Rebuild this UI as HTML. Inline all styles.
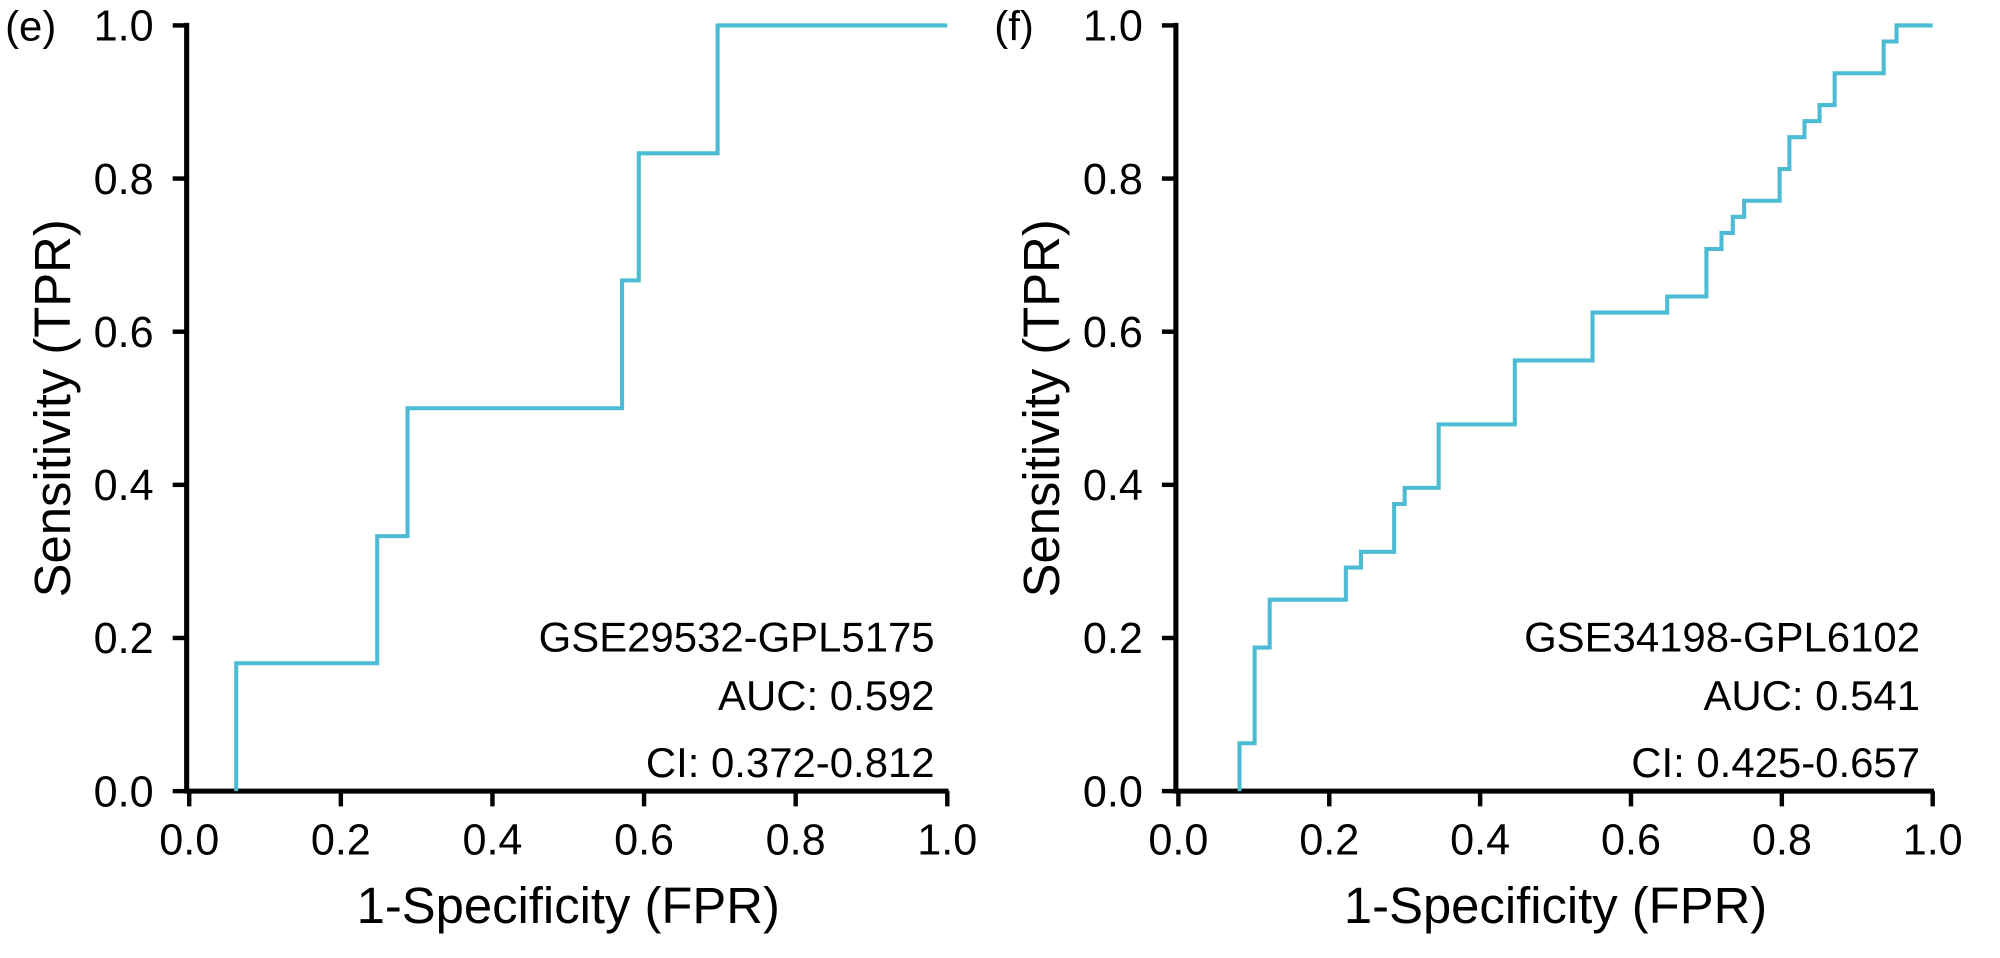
<!DOCTYPE html>
<html><head><meta charset="utf-8"><style>
html,body{margin:0;padding:0;background:#fff;}
svg{display:block;font-family:"Liberation Sans",Arial,sans-serif;}
</style></head><body>
<svg id="c" width="2000" height="958" viewBox="0 0 1575 754.4"></svg>
<script>
const ticks=[0,0.2,0.4,0.6,0.8,1.0];
const tickLabels=["0.0","0.2","0.4","0.6","0.8","1.0"];
const fprE=[0.062,0.062,0.248,0.248,0.288,0.288,0.571,0.571,0.593,0.593,0.697,0.697,1.0];
const tprE=[0,0.167,0.167,0.333,0.333,0.5,0.5,0.667,0.667,0.833,0.833,1.0,1.0];
const stepsF_x=[0.081,0.101,0.121,0.222,0.242,0.286,0.30,0.345,0.446,0.549,0.648,0.70,0.72,0.735,0.75,0.797,0.81,0.83,0.85,0.87,0.935,0.952,1.0];
const stepsF_y=[0,0.0625,0.1875,0.25,0.292,0.3125,0.375,0.396,0.479,0.5625,0.625,0.646,0.708,0.729,0.75,0.771,0.8125,0.854,0.875,0.896,0.9375,0.979,1.0];
const labelsE=["GSE29532-GPL5175","AUC: 0.592","CI: 0.372-0.812"];
const labelsF=["GSE34198-GPL6102","AUC: 0.541","CI: 0.425-0.657"];

const svg=document.getElementById('c');
const NS='http://www.w3.org/2000/svg';
function mk(t,a,txt){const e=document.createElementNS(NS,t);for(const k in a)e.setAttribute(k,a[k]);if(txt!==undefined)e.textContent=txt;svg.appendChild(e);return e;}

function panel(id,ax0,ax1,letter,xs,ys,labels,stepMode){
  const y0=623,y1=20;
  const X=v=>ax0+v*(ax1-ax0), Y=v=>y0+v*(y1-y0);
  let e;
  e=mk('line',{x1:ax0-2,y1:y0,x2:X(1)+1,y2:y0,stroke:'#000','stroke-width':4});
  
  
  e=mk('line',{x1:ax0-2,y1:y0+2,x2:ax0-2,y2:y1-2,stroke:'#000','stroke-width':4});
  
  
  ticks.forEach((t,i)=>{
    e=mk('line',{x1:X(t),y1:y0,x2:X(t),y2:y0+12,stroke:'#000','stroke-width':3.5});
    
    
    e=mk('text',{x:X(t),y:y0+50,'font-size':34,'text-anchor':'middle'},tickLabels[i]);
    
    
    e=mk('line',{x1:ax0-2,y1:Y(t),x2:ax0-13,y2:Y(t),stroke:'#000','stroke-width':3.5});
    
    
    e=mk('text',{x:ax0-28,y:Y(t)+12,'font-size':34,'text-anchor':'end'},tickLabels[i]);
    
    
  });
  e=mk('text',{x:(X(0)+X(1))/2,y:y0+104,'font-size':40,'text-anchor':'middle'},'1-Specificity (FPR)');
  
  
  const cy=(y0+y1)/2;
  e=mk('text',{x:0,y:0,'font-size':40,'text-anchor':'middle',transform:`translate(${ax0-94},${cy}) rotate(-90)`},'Sensitivity (TPR)');
  
  
  e=mk('text',{x:ax0-145,y:32,'font-size':33},letter);
  
  
  let d;
  if(stepMode){
    d=`M${X(xs[0])},${Y(0)}`;
    for(let i=1;i<xs.length;i++){d+=` L${X(xs[i-1])},${Y(ys[i])} L${X(xs[i])},${Y(ys[i])}`;}
  } else {
    d=xs.map((v,i)=>(i?'L':'M')+X(v)+','+Y(ys[i])).join(' ');
  }
  e=mk('path',{d:d,fill:'none',stroke:'#4bbcd3','stroke-width':3.2});
  
  
  const ly=[513,559,612];
  labels.forEach((l,i)=>{
    e=mk('text',{x:X(1)-10,y:ly[i],'font-size':33,'text-anchor':'end'},l);
    
    
  });
}
panel('panel-e',149,746,'(e)',fprE,tprE,labelsE,false);
panel('panel-f',928,1522,'(f)',stepsF_x,stepsF_y,labelsF,true);
</script>
</body></html>
